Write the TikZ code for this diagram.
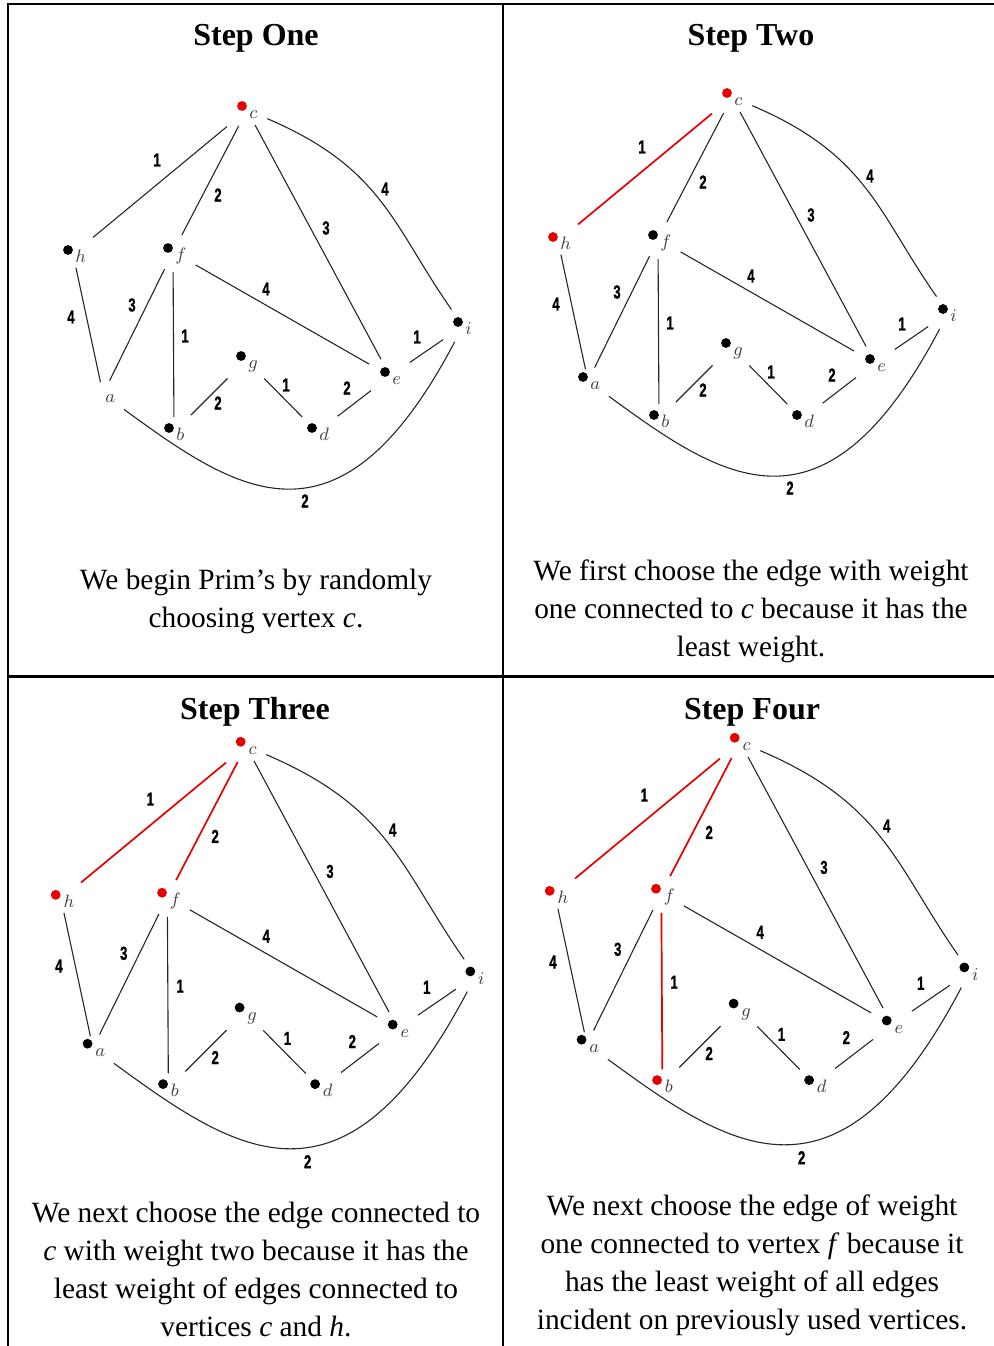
\documentclass[tikz,border=0pt]{standalone}
\usepackage{fontspec}
\setmainfont{Liberation Serif}
\newfontfamily\weightfont{Liberation Sans}[BoldFeatures={FakeBold=1.2}]
\usepackage{graphicx}
\usetikzlibrary{positioning}
\definecolor{mRed}{HTML}{E60000}

\newcommand{\narrow}[1]{\scalebox{0.7}[1]{#1}}

\tikzset{
  vtx/.style={inner sep=0pt, minimum size=0pt, outer sep=0pt},
  dot/.style={circle, fill=black, inner sep=0pt, minimum size=4.9pt},
  chosen/.style={fill=mRed},
  vname/.style={anchor=base west, inner sep=0pt, text=black!75, font=\fontsize{9}{9}\selectfont},
  edge/.style={draw=black!85, line width=0.55pt},
  tree/.style={draw=mRed, line width=0.85pt},
  wt/.style={inner sep=0pt, font=\weightfont\bfseries\fontsize{9.4}{10}\selectfont},
  title/.style={anchor=base, font=\bfseries\fontsize{16}{19}\selectfont},
  caption/.style={anchor=base, align=center, font=\fontsize{14.7}{19}\selectfont},
  grid/.style={line width=0.8pt},
}

\newcommand{\primgraph}{%
  \foreach \n/\x/\y in {c/0/0, h/-174/144, f/-74/142, a/-144/284, g/-1/250,
                        i/216/216, e/143/266, b/-73/322, d/70/322} {
    \node[vtx] (\n) at (\x,\y) {};
    \node[dot, v-\n/.try] (\n-dot) at ([shift={(-5,-4)}]\n) {};
    \node[vname] (\n-name) at ([shift={(2,8)}]\n) {$\n$};
  }
  \foreach \u/\v/\s/\t/\w/\lx/\ly in {c/h/13/13/1/-90/50, c/f/9/9.5/2/-29/85,
      c/e/8.5/9.5/3/79/118, f/e/13/12/4/19/179, h/a/7/6/4/-176/207,
      f/a/9.5/7.5/3/-115/195, f/b/10/7.5/1/-62/226, g/b/13/12/2/-29/293,
      g/d/13/10.5/1/39/275, d/e/13/12/2/100/278, e/i/12/12/1/170/227} {
    \draw[edge, e-\u\v/.try, shorten <=\s pt, shorten >=\t pt] (\u) -- (\v);
    \node[wt] (w-\u\v) at (\lx,\ly) {\narrow{\w}};
  }
  \draw[edge, shorten <=11pt, shorten >=10pt] (c) .. controls (136,58) and (146,116) .. (i);
  \node[wt] (w-ci) at (138,79) {\narrow{4}};
  \draw[edge, shorten <=13pt, shorten >=9pt] (a) .. controls (-10,382) and (92,452) .. (i);
  \node[wt] (w-ai) at (58,391) {\narrow{2}};
}

\begin{document}
\begin{tikzpicture}[x=0.5pt, y=-0.5pt]
  \useasboundingbox (0,0) rectangle (994,1346);
  \draw[grid] (8,1346) -- (8,4) -- (994,4);
  \draw[grid] (503,4) -- (503,1346);
  \draw[grid, line width=1.5pt] (8,676) -- (994,676);

  \node[title] (t1) at (256,45) {Step One};
  \node[title] (t2) at (751,45) {Step Two};
  \node[title] (t3) at (255,719) {Step Three};
  \node[title] (t4) at (752,719) {Step Four};

  \begin{scope}[shift={(247,110)}, name prefix=p1-, v-c/.style=chosen, v-a/.style={fill=none}]
    \primgraph
  \end{scope}
  \begin{scope}[shift={(732,97)}, name prefix=p2-, v-c/.style=chosen, v-h/.style=chosen,
      e-ch/.style=tree]
    \primgraph
  \end{scope}
  \begin{scope}[shift={(246,746)}, scale=1.063, name prefix=p3-, v-c/.style=chosen,
      v-h/.style=chosen, v-f/.style=chosen, e-ch/.style=tree, e-cf/.style=tree]
    \primgraph
  \end{scope}
  \begin{scope}[shift={(740,742)}, scale=1.063, name prefix=p4-, v-c/.style=chosen,
      v-h/.style=chosen, v-f/.style=chosen, v-b/.style=chosen, e-ch/.style=tree,
      e-cf/.style=tree, e-fb/.style=tree]
    \primgraph
  \end{scope}

  \node[caption] (x1) at (256,627) {We begin Prim’s by randomly\\ choosing vertex \textit{c}.};
  \node[caption] (x2) at (751,656) {We first choose the edge with weight\\
    one connected to \textit{c} because it has the\\ least weight.};
  \node[caption] (x3) at (256,1336) {We next choose the edge connected to\\
    \textit{c} with weight two because it has the\\ least weight of edges connected to\\
    vertices \textit{c} and \textit{h}.};
  \node[caption] (x4) at (752,1329) {We next choose the edge of weight\\
    one connected to vertex \textit{f} because it\\ has the least weight of all edges\\
    incident on previously used vertices.};
\end{tikzpicture}
\end{document}
